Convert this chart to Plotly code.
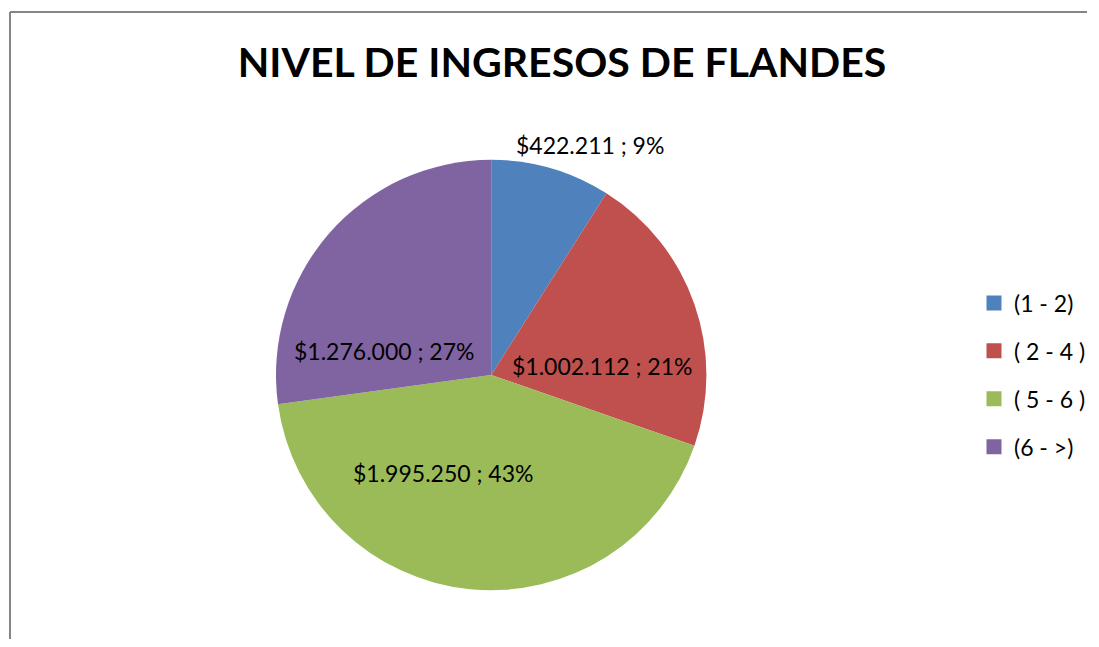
import plotly.graph_objects as go

categories = ["(1 - 2)", "( 2 - 4 )", "( 5 - 6 )", "(6 - >)"]
values = [422211, 1002112, 1995250, 1276000]
percent_labels = [9, 21, 43, 27]
colors = ["#4F81BD", "#C0504D", "#9BBB59", "#8064A2"]

texts = [f"${v:,}".replace(",", ".") + f" ; {p}%" for v, p in zip(values, percent_labels)]

# page body has an 8px margin; size & position in screen pixels
OFF = 8
W, H = 1099 - 2 * OFF, 647 - 2 * OFF


def px(X):
    return (X - OFF) / W


def py(Y):
    return 1 - (Y - OFF) / H


cx, cy, r = 493, 375, 216
label_pos = [(592, 145), (604, 366), (445, 473), (385, 351)]

FONT = "Lato, Open Sans, sans-serif"

fig = go.Figure()
fig.add_trace(go.Pie(
    labels=categories,
    values=values,
    textinfo="none",
    sort=False,
    direction="clockwise",
    rotation=0,
    marker=dict(colors=colors, line=dict(color="white", width=0)),
    domain=dict(x=[px(cx - r), px(cx + r)], y=[py(cy + r), py(cy - r)]),
    showlegend=False,
    hoverinfo="label+value+percent",
))

# legend entries
for i, (c, col) in enumerate(zip(categories, colors)):
    fig.add_trace(go.Scatter(
        x=[None], y=[None], mode="markers", name=c, legendgroup=f"g{i}",
        marker=dict(symbol="square", size=15, color=col), showlegend=True,
        hoverinfo="skip",
    ))

annotations = [
    dict(text=t, x=px(X), y=py(Y), xref="paper", yref="paper", showarrow=False,
         xanchor="center", yanchor="middle",
         font=dict(family=FONT, size=23, color="black"))
    for t, (X, Y) in zip(texts, label_pos)
]

fig.update_layout(
    width=W, height=H,
    margin=dict(l=0, r=0, t=0, b=0),
    paper_bgcolor="white",
    plot_bgcolor="white",
    xaxis=dict(visible=False),
    yaxis=dict(visible=False),
    title=dict(text="<b>NIVEL DE INGRESOS DE FLANDES</b>", x=px(562), xanchor="center",
               y=py(63), yanchor="middle",
               font=dict(family=FONT, size=41, color="black")),
    legend=dict(x=px(978), xanchor="left", y=py(375), yanchor="middle",
                traceorder="grouped", tracegroupgap=15,
                font=dict(family=FONT, size=23, color="black"),
                itemwidth=30, bgcolor="rgba(0,0,0,0)"),
    annotations=annotations,
    shapes=[
        dict(type="line", xref="paper", yref="paper", x0=px(10), x1=1.0, y0=py(12), y1=py(12),
             line=dict(color="#868686", width=2)),
        dict(type="line", xref="paper", yref="paper", x0=px(10), x1=px(10), y0=0, y1=py(12),
             line=dict(color="#868686", width=2)),
    ],
)

fig.write_html("out.html")
